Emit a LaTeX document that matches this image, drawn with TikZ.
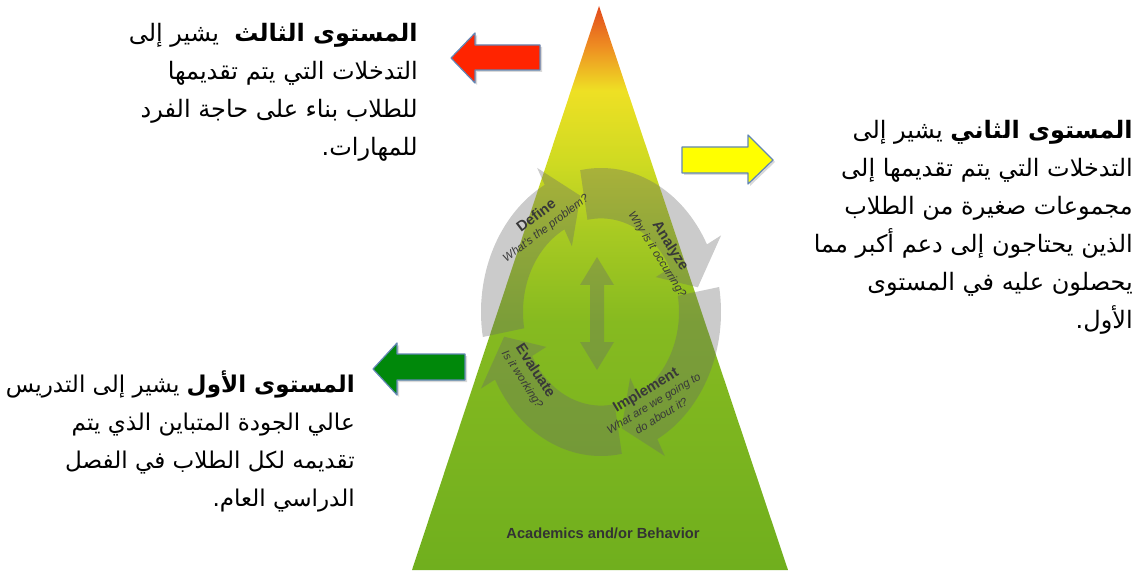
\documentclass[tikz,border=0pt]{standalone}
\usepackage{fontspec}
\setmainfont{Liberation Sans}
\newfontfamily\arabicfont[Script=Arabic]{DejaVu Sans}
\TeXXeTstate=1
\usetikzlibrary{shadows}
\definecolor{pred}{RGB}{226,74,28}
\definecolor{porange}{RGB}{238,140,34}
\definecolor{pyellow}{RGB}{238,224,36}
\definecolor{pyg}{RGB}{206,218,34}
\definecolor{plime}{RGB}{168,202,34}
\definecolor{pgreenb}{RGB}{134,186,32}
\definecolor{pgreen}{RGB}{112,175,30}
\definecolor{arrowline}{RGB}{98,134,180}
\definecolor{arrowred}{RGB}{255,36,0}
\definecolor{arrowyellow}{RGB}{255,255,0}
\definecolor{arrowgreen}{RGB}{0,136,10}
\definecolor{cycgray}{RGB}{105,105,105}
\pgfdeclareverticalshading{pyramid}{100bp}{color(0bp)=(pgreen); color(25bp)=(pgreen); color(47bp)=(pgreenb); color(55bp)=(plime); color(61bp)=(pyg); color(67.5bp)=(pyellow); color(71.5bp)=(porange); color(75bp)=(pred); color(100bp)=(pred)}
\tikzset{
  arabtext/.style={font=\arabicfont\fontsize{18}{28.5}\selectfont, align=right, inner sep=0pt},
  blockarrow/.style={draw=arrowline, line width=0.9pt, line join=round,
    drop shadow={opacity=0.3, shadow xshift=1.5pt, shadow yshift=-1.5pt}},
  cycarrow/.style={fill=cycgray, fill opacity=0.35},
  steplabel/.style={align=center, inner sep=0pt, text=black!78, font=\fontsize{8.5}{11}\selectfont\itshape},
}
\newcommand\cyclearrow[2]{% #1 起点角度, #2 箭头尖角度
  \pgfmathsetmacro\cycHead{#2+16}%
  \fill[cycarrow] (#1:120) arc[start angle=#1, end angle=\cycHead, radius=120]
    -- (\cycHead:136) -- (#2:99) -- (\cycHead:62) -- (\cycHead:78)
    arc[start angle=\cycHead, end angle=#1, radius=78] -- cycle;}
\newcommand\steptitle[1]{{\upshape\bfseries\fontsize{11}{12}\selectfont #1}}
\begin{document}
\begin{tikzpicture}[x=0.75pt, y=-0.75pt]
  \useasboundingbox (0,0) rectangle (1140,574);
  \shade[shading=pyramid] (599,6) -- (788,570) -- (412,570) -- cycle;%金字塔
  % 循环箭头
  \begin{scope}[shift={(601,312)}, x=0.75pt, y=0.9pt]
    \cyclearrow{190}{102}
    \cyclearrow{100}{12}
    \cyclearrow{10}{-78}
    \cyclearrow{-80}{-168}
  \end{scope}
  \fill[cycarrow] (597,257) -- (614,285) -- (604,285) -- (604,342) -- (614,342) -- (597,370)
    -- (580,342) -- (590,342) -- (590,285) -- (580,285) -- cycle;%中间的双向箭头
  \node[steplabel, rotate=37] (define) at (541,222) {\steptitle{Define}\\What's the problem?};
  \node[steplabel, rotate=-58] (analyze) at (664,250) {\steptitle{Analyze}\\Why is it occurring?};
  \node[steplabel, rotate=31] (implement) at (653,402) {\steptitle{Implement}\\What are we going to\\do about it?};
  \node[steplabel, rotate=-57] (evaluate) at (529,375) {\steptitle{Evaluate}\\Is it working?};
  \node[inner sep=0pt, text=black!80, font=\bfseries\fontsize{11}{13}\selectfont] (base) at (603,533) {Academics and/or Behavior};
  % 三个方块箭头
  \draw[blockarrow, fill=arrowred] (451,58) -- (475,33) -- (475,45) -- (540,45) -- (540,70) -- (475,70) -- (475,83) -- cycle;
  \draw[blockarrow, fill=arrowyellow] (773,160) -- (748,135) -- (748,147) -- (682,147) -- (682,173) -- (748,173) -- (748,184) -- cycle;
  \draw[blockarrow, fill=arrowgreen] (373,369) -- (397,343) -- (397,354) -- (465,354) -- (465,380) -- (397,380) -- (397,395) -- cycle;
  % 说明文字
  \node[arabtext, anchor=north east] (lvlthree) at (418,23)
    {\beginR\textbf{المستوى الثالث}\ \ يشير إلى\endR\\
     \beginR التدخلات التي يتم تقديمها\endR\\
     \beginR للطلاب بناء على حاجة الفرد\endR\\
     \beginR للمهارات.\endR};
  \node[arabtext, anchor=north east] (lvltwo) at (1133,120)
    {\beginR\textbf{المستوى الثاني} يشير إلى\endR\\
     \beginR التدخلات التي يتم تقديمها إلى\endR\\
     \beginR مجموعات صغيرة من الطلاب\endR\\
     \beginR الذين يحتاجون إلى دعم أكبر مما\endR\\
     \beginR يحصلون عليه في المستوى\endR\\
     \beginR الأول.\endR};
  \node[arabtext, font=\arabicfont\fontsize{17.3}{28.5}\selectfont, anchor=north east] (lvlone) at (355,370)
    {\beginR\textbf{المستوى الأول} يشير إلى التدريس\endR\\
     \beginR عالي الجودة المتباين الذي يتم\endR\\
     \beginR تقديمه لكل الطلاب في الفصل\endR\\
     \beginR الدراسي العام.\endR};
\end{tikzpicture}
\end{document}
